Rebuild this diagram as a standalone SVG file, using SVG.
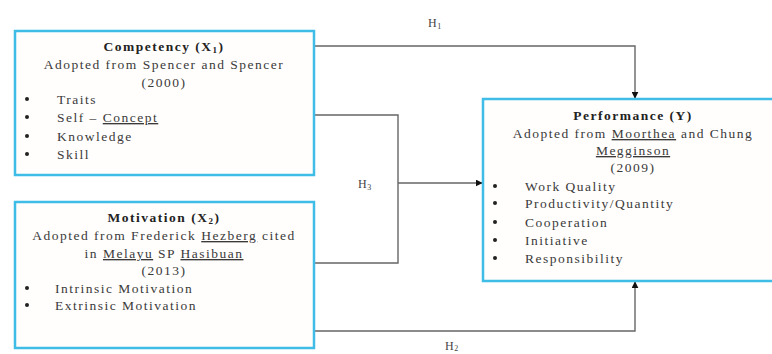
<svg xmlns="http://www.w3.org/2000/svg" width="772" height="354" viewBox="0 0 772 354">
<style>
.box{fill:#fffefc;stroke:#3fbde6;stroke-width:2.5}
text{font-family:"Liberation Serif","Times New Roman",serif;font-size:13.5px;fill:#3a3a3a;letter-spacing:1.5px}
.t{font-weight:bold;fill:#222}
.c{text-anchor:middle}
.u{text-decoration:underline}
.b{fill:#222}
.conn{fill:none;stroke:#666;stroke-width:1.4}
.lbl{font-size:12px;fill:#444;letter-spacing:0.5px}
</style>
<defs>
<marker id="ah" viewBox="0 0 10 10" refX="9" refY="5" markerWidth="7" markerHeight="7" orient="auto" markerUnits="userSpaceOnUse">
<path d="M0,0 L10,5 L0,10 z" fill="#111"/>
</marker>
</defs>
<rect width="772" height="354" fill="#ffffff"/>
<g id="connectors">
<polyline class="conn" points="314,46 635,46 635,98" marker-end="url(#ah)"/>
<polyline class="conn" points="314,115 398,115 398,263 314,263"/>
<line class="conn" x1="398" y1="183" x2="482" y2="183" marker-end="url(#ah)"/>
<polyline class="conn" points="314,331 635,331 635,282" marker-end="url(#ah)"/>
<text class="lbl" x="428" y="27">H<tspan font-size="8" dy="2">1</tspan></text>
<text class="lbl" x="358" y="188">H<tspan font-size="8" dy="2">3</tspan></text>
<text class="lbl" x="445" y="350">H<tspan font-size="8" dy="1">2</tspan></text>
</g>
<g id="competency">
<rect class="box" x="15" y="31" width="299" height="144"/>
<text class="t c" x="164" y="51">Competency (X<tspan font-size="9" dy="2">1</tspan><tspan dy="-2">)</tspan></text>
<text class="c" x="164" y="69">Adopted from Spencer and Spencer</text>
<text class="c" x="164" y="87">(2000)</text>
<circle class="b" cx="27" cy="99" r="2"/><text x="57" y="104">Traits</text>
<circle class="b" cx="27" cy="117" r="2"/><text x="57" y="122">Self – <tspan class="u">Concept</tspan></text>
<circle class="b" cx="27" cy="136" r="2"/><text x="57" y="141">Knowledge</text>
<circle class="b" cx="27" cy="154" r="2"/><text x="57" y="159">Skill</text>
</g>
<g id="motivation">
<rect class="box" x="15" y="202" width="299" height="146"/>
<text class="t c" x="164" y="222">Motivation (X<tspan font-size="9" dy="2">2</tspan><tspan dy="-2">)</tspan></text>
<text class="c" x="164" y="240">Adopted from Frederick <tspan class="u">Hezberg</tspan> cited</text>
<text class="c" x="164" y="258">in <tspan class="u">Melayu</tspan> SP <tspan class="u">Hasibuan</tspan></text>
<text class="c" x="164" y="275">(2013)</text>
<circle class="b" cx="27" cy="288" r="2"/><text x="55" y="293">Intrinsic Motivation</text>
<circle class="b" cx="27" cy="305" r="2"/><text x="55" y="310">Extrinsic Motivation</text>
</g>
<g id="performance">
<rect class="box" x="483" y="99" width="292" height="182"/>
<text class="t c" x="633" y="120">Performance (Y)</text>
<text class="c" x="633" y="138">Adopted from <tspan class="u">Moorthea</tspan> and Chung</text>
<text class="c u" x="633" y="155">Megginson</text>
<text class="c" x="633" y="172">(2009)</text>
<circle class="b" cx="495" cy="186" r="2"/><text x="525" y="191">Work Quality</text>
<circle class="b" cx="495" cy="203" r="2"/><text x="525" y="208">Productivity/Quantity</text>
<circle class="b" cx="495" cy="222" r="2"/><text x="525" y="227">Cooperation</text>
<circle class="b" cx="495" cy="240" r="2"/><text x="525" y="245">Initiative</text>
<circle class="b" cx="495" cy="258" r="2"/><text x="525" y="263">Responsibility</text>
</g>
</svg>
